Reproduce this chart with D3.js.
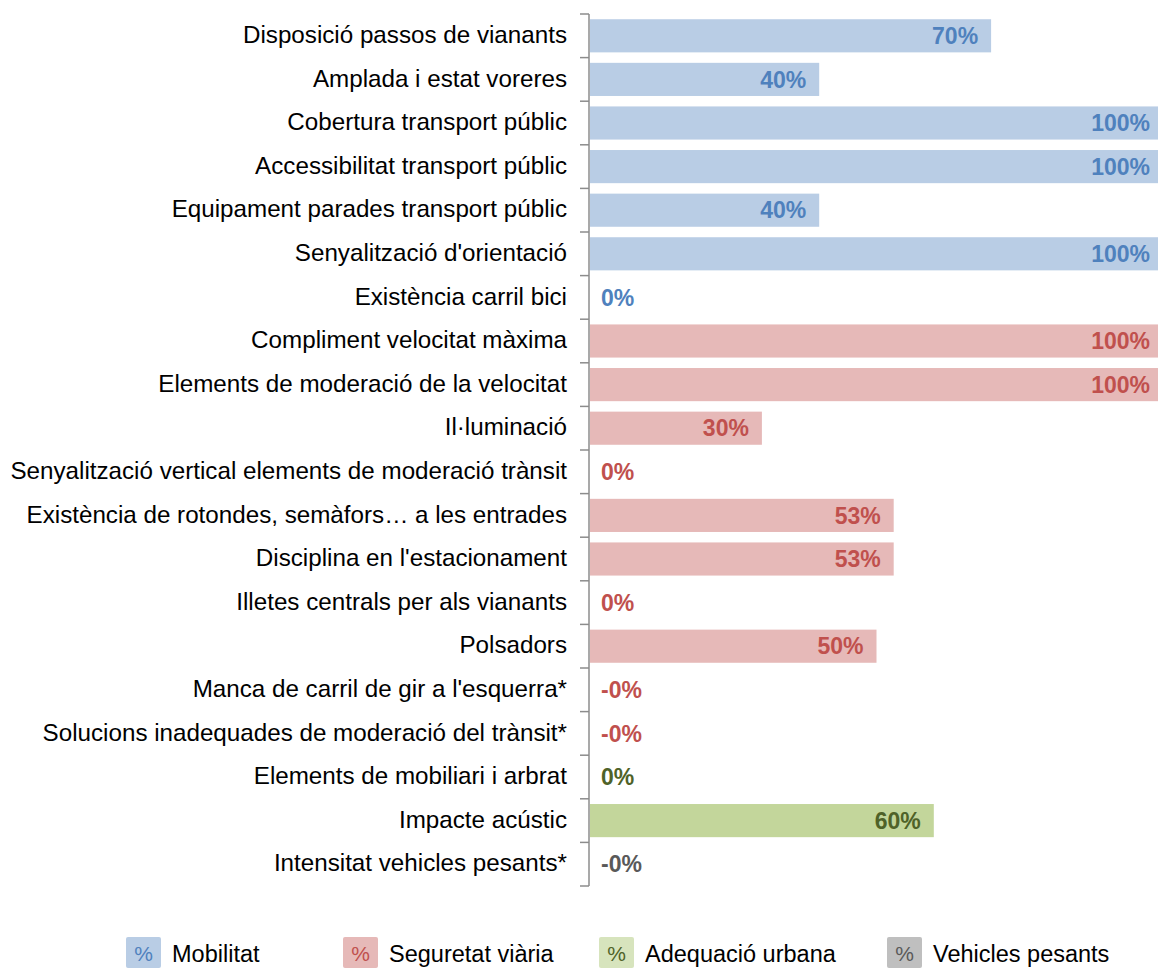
<!DOCTYPE html>
<html>
<head>
<meta charset="utf-8">
<script src="https://cdn.jsdelivr.net/npm/d3@7"></script>
<style>
  html, body { margin: 0; padding: 0; background: #fff; }
  svg { display: block; }
  text { font-family: "Liberation Sans", Arial, sans-serif; }
</style>
</head>
<body>
<svg id="chart" width="1158" height="968"></svg>
<script>
// ---- data ----
const categories = [
  "Disposició passos de vianants",
  "Amplada i estat voreres",
  "Cobertura transport públic",
  "Accessibilitat transport públic",
  "Equipament parades transport públic",
  "Senyalització d'orientació",
  "Existència carril bici",
  "Compliment velocitat màxima",
  "Elements de moderació de la velocitat",
  "Il·luminació",
  "Senyalització vertical elements de moderació trànsit",
  "Existència de rotondes, semàfors… a les entrades",
  "Disciplina en l'estacionament",
  "Illetes centrals per als vianants",
  "Polsadors",
  "Manca de carril de gir a l'esquerra*",
  "Solucions inadequades de moderació del trànsit*",
  "Elements de mobiliari i arbrat",
  "Impacte acústic",
  "Intensitat vehicles pesants*"
];
const values = [0.70, 0.40, 1.00, 1.00, 0.40, 1.00, 0,
                1.00, 1.00, 0.30, 0, 0.53, 0.53, 0, 0.50, -0, -0,
                0, 0.60,
                -0];
const groups = ["Mobilitat","Mobilitat","Mobilitat","Mobilitat","Mobilitat","Mobilitat","Mobilitat",
                "Seguretat viària","Seguretat viària","Seguretat viària","Seguretat viària","Seguretat viària",
                "Seguretat viària","Seguretat viària","Seguretat viària","Seguretat viària","Seguretat viària",
                "Adequació urbana","Adequació urbana",
                "Vehicles pesants"];
const seriesNames = ["Mobilitat", "Seguretat viària", "Adequació urbana", "Vehicles pesants"];
const barColors   = ["#B9CDE5", "#E6B9B8", "#C3D69B", "#BFBFBF"];
const legendColors = ["#B9CDE5", "#E6B9B8", "#D7E4BD", "#BFBFBF"];
const textColors  = ["#4F81BD", "#C0504D", "#4F6228", "#595959"];

// ---- layout ----
const svg = d3.select("#chart");
const axisX = 589;
const x = d3.scaleLinear().domain([0, 1]).range([axisX + 1, 1163]);
const y = d3.scaleBand().domain(categories).range([14, 886]).paddingInner(0.24).paddingOuter(0.12);
const colorBar = d3.scaleOrdinal().domain(seriesNames).range(barColors);
const colorText = d3.scaleOrdinal().domain(seriesNames).range(textColors);
const step = y.step();

const rows = categories.map((c, i) => ({ c, v: values[i], g: groups[i] }));

function fmt(v) {
  const neg = v < 0 || Object.is(v, -0);
  return (neg ? "-" : "") + Math.round(Math.abs(v) * 100) + "%";
}

// bars
svg.append("g").selectAll("rect").data(rows).join("rect")
  .attr("x", x(0))
  .attr("y", d => y(d.c))
  .attr("width", d => Math.max(0, x(Math.abs(d.v)) - x(0)))
  .attr("height", y.bandwidth())
  .attr("fill", d => colorBar(d.g));

// category labels
const labelAxis = d3.axisLeft(y).tickSize(0).tickPadding(22);
const gl = svg.append("g").attr("transform", `translate(${axisX},0)`).call(labelAxis);
gl.select(".domain").remove();
gl.selectAll("text")
  .attr("font-size", 24.2)
  .attr("fill", "#000")
  .attr("font-family", "'Liberation Sans', Arial, sans-serif")
  .attr("dy", "0.3em");

// axis line + ticks at band boundaries
const bounds = categories.map(c => y(c) - y.paddingInner() * step / 2);
bounds.push(bounds[bounds.length - 1] + step);
const ga = svg.append("g");
ga.append("line")
  .attr("x1", axisX).attr("x2", axisX)
  .attr("y1", bounds[0]).attr("y2", bounds[bounds.length - 1])
  .attr("stroke", "#8C8C8C").attr("stroke-width", 1.5);
ga.selectAll("line.tick").data(bounds).join("line").attr("class", "tick")
  .attr("x1", axisX - 9).attr("x2", axisX)
  .attr("y1", d => d).attr("y2", d => d)
  .attr("stroke", "#8C8C8C").attr("stroke-width", 1.5);

// value labels
svg.append("g").selectAll("text").data(rows).join("text")
  .attr("x", d => d.v > 0 ? x(d.v) - 13 : x(0) + 11)
  .attr("y", d => y(d.c) + y.bandwidth() / 2)
  .attr("dy", "0.36em")
  .attr("text-anchor", d => d.v > 0 ? "end" : "start")
  .attr("font-size", 23)
  .attr("font-weight", "bold")
  .attr("fill", d => colorText(d.g))
  .text(d => fmt(d.v));

// legend
const legendX = [126, 343, 599, 887];
const lg = svg.append("g").selectAll("g").data(seriesNames).join("g")
  .attr("transform", (d, i) => `translate(${legendX[i]},937)`);
lg.append("rect")
  .attr("width", 35).attr("height", 31).attr("rx", 2)
  .attr("fill", (d, i) => legendColors[i]);
lg.append("text")
  .attr("x", 17.5).attr("y", 24)
  .attr("text-anchor", "middle")
  .attr("font-size", 21)
  .attr("fill", (d, i) => textColors[i])
  .text("%");
lg.append("text")
  .attr("x", 46).attr("y", 25)
  .attr("font-size", 23.5)
  .attr("fill", "#000")
  .text(d => d);
</script>
</body>
</html>
